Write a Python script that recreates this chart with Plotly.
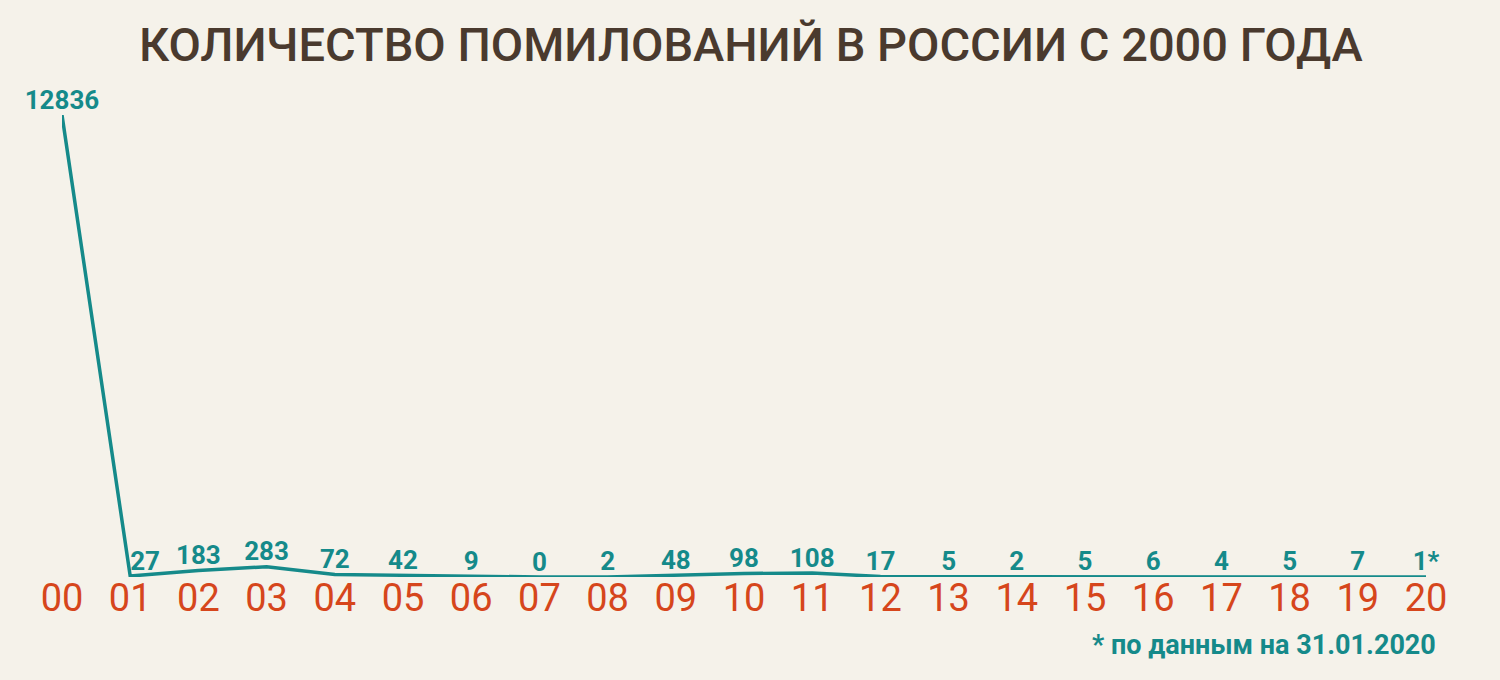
import plotly.graph_objects as go

# Years (two-digit labels) and number of pardons
years = ["00", "01", "02", "03", "04", "05", "06", "07", "08", "09", "10",
         "11", "12", "13", "14", "15", "16", "17", "18", "19", "20"]
pardons = [12836, 27, 183, 283, 72, 42, 9, 0, 2, 48, 98,
           108, 17, 5, 2, 5, 6, 4, 5, 7, 1]

title_text = "КОЛИЧЕСТВО ПОМИЛОВАНИЙ В РОССИИ С 2000 ГОДА"
footnote_text = "* по данным на 31.01.2020"

teal = "#158a8a"
orange = "#d6461c"
brown = "#4a3a2e"
bg = "#f5f2ea"

x_idx = list(range(len(years)))

# Value labels; the last year is marked as incomplete
labels = [str(v) for v in pardons]
labels[-1] = labels[-1] + "*"
positions = ["top center"] * len(pardons)
positions[1] = "top right"

fig = go.Figure()
fig.add_trace(go.Scatter(
    x=x_idx,
    y=pardons,
    mode="lines+text",
    line=dict(color=teal, width=3.5),
    text=labels,
    textposition=positions,
    textfont=dict(family="Roboto", size=26, color=teal, weight="bold"),
    cliponaxis=False,
    hoverinfo="skip",
))

fig.update_layout(
    width=1500,
    height=680,
    margin=dict(l=62, r=74, t=115, b=103),
    paper_bgcolor=bg,
    plot_bgcolor=bg,
    showlegend=False,
    xaxis=dict(
        range=[0, 20],
        tickmode="array",
        tickvals=x_idx,
        ticktext=years,
        tickfont=dict(family="Roboto", size=38, color=orange),
        showgrid=False,
        zeroline=False,
        showline=False,
        ticks="",
        ticklabelstandoff=-5,
    ),
    yaxis=dict(
        range=[0, 12836],
        visible=False,
    ),
)

# Title
fig.add_annotation(
    text=title_text,
    xref="paper", yref="paper",
    x=0.5, y=1, xshift=7, yshift=71,
    xanchor="center", yanchor="middle",
    showarrow=False,
    font=dict(family="Roboto", size=47, color=brown, weight=500),
)

# Footnote
fig.add_annotation(
    text=footnote_text,
    xref="paper", yref="paper",
    x=1, y=0, xshift=12, yshift=-68,
    xanchor="right", yanchor="middle",
    showarrow=False,
    font=dict(family="Roboto", size=27, color=teal, weight="bold"),
)

# drop the default page margin so the figure sits at the window's corner
fig.write_html("out.html", config={"displayModeBar": False},
               post_script="document.body.style.margin='0';")
